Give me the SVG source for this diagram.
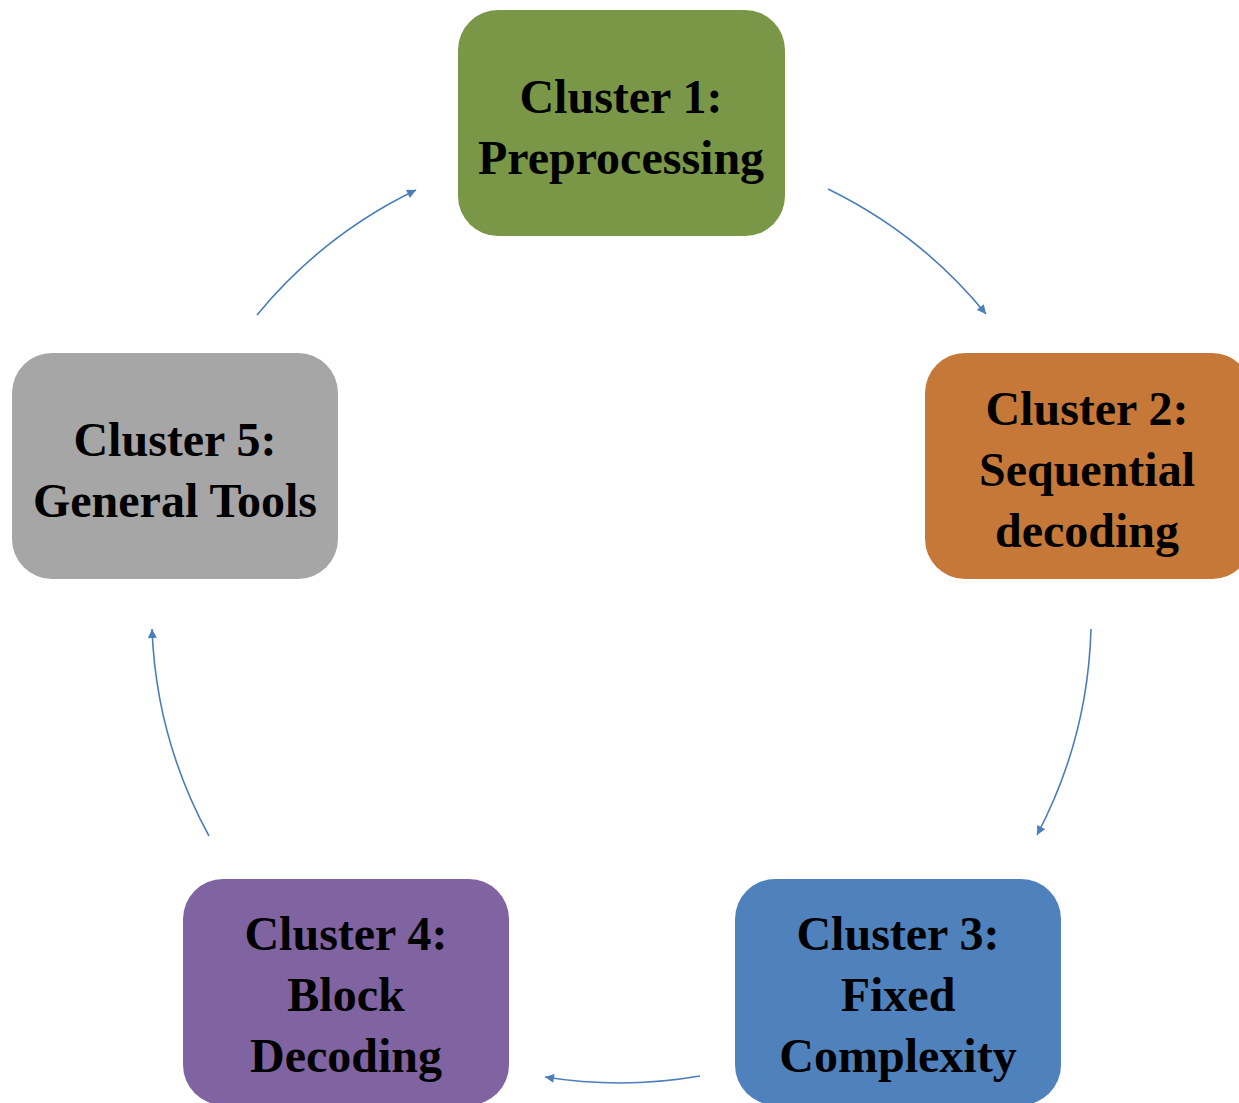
<svg xmlns="http://www.w3.org/2000/svg" width="1239" height="1103" viewBox="0 0 1239 1103">
<style>
.box{stroke:none}
.lbl{font-family:"Liberation Serif","Times New Roman",serif;font-weight:bold;font-size:48px;fill:#000;text-anchor:middle}
.conn{fill:none;stroke:#4A7EBB;stroke-width:1.6}
</style>
<defs>
<marker id="ah" viewBox="0 0 10 10" refX="10" refY="5" markerWidth="11" markerHeight="9" markerUnits="userSpaceOnUse" orient="auto">
<path d="M0,0 L10,5 L0,10 Z" fill="#4A7EBB"/>
</marker>
</defs>
<rect width="1239" height="1103" fill="#fff"/>
<g id="connectors">
<path class="conn" marker-end="url(#ah)" d="M 828 189 A 470 470 0 0 1 986 314"/>
<path class="conn" marker-end="url(#ah)" d="M 1091 629 A 470 470 0 0 1 1037 835"/>
<path class="conn" marker-end="url(#ah)" d="M 700 1076 A 470 470 0 0 1 545 1077"/>
<path class="conn" marker-end="url(#ah)" d="M 209 836 A 470 470 0 0 1 152 629"/>
<path class="conn" marker-end="url(#ah)" d="M 257 315 A 470 470 0 0 1 416 190"/>
</g>
<g id="cluster1">
<rect class="box" x="458" y="10" width="327" height="226" rx="40" fill="#7A9747"/>
<text class="lbl" x="621" y="113">Cluster 1:</text>
<text class="lbl" x="621" y="174">Preprocessing</text>
</g>
<g id="cluster2">
<rect class="box" x="925" y="353" width="327" height="226" rx="40" fill="#C67838"/>
<text class="lbl" x="1087" y="425">Cluster 2:</text>
<text class="lbl" x="1087" y="486">Sequential</text>
<text class="lbl" x="1087" y="547">decoding</text>
</g>
<g id="cluster3">
<rect class="box" x="735" y="879" width="326" height="226" rx="40" fill="#4F81BD"/>
<text class="lbl" x="898" y="950">Cluster 3:</text>
<text class="lbl" x="898" y="1011">Fixed</text>
<text class="lbl" x="898" y="1072">Complexity</text>
</g>
<g id="cluster4">
<rect class="box" x="183" y="879" width="326" height="226" rx="40" fill="#8064A2"/>
<text class="lbl" x="346" y="950">Cluster 4:</text>
<text class="lbl" x="346" y="1011">Block</text>
<text class="lbl" x="346" y="1072">Decoding</text>
</g>
<g id="cluster5">
<rect class="box" x="12" y="353" width="326" height="226" rx="40" fill="#A6A6A6"/>
<text class="lbl" x="175" y="456">Cluster 5:</text>
<text class="lbl" x="175" y="517">General Tools</text>
</g>
</svg>
